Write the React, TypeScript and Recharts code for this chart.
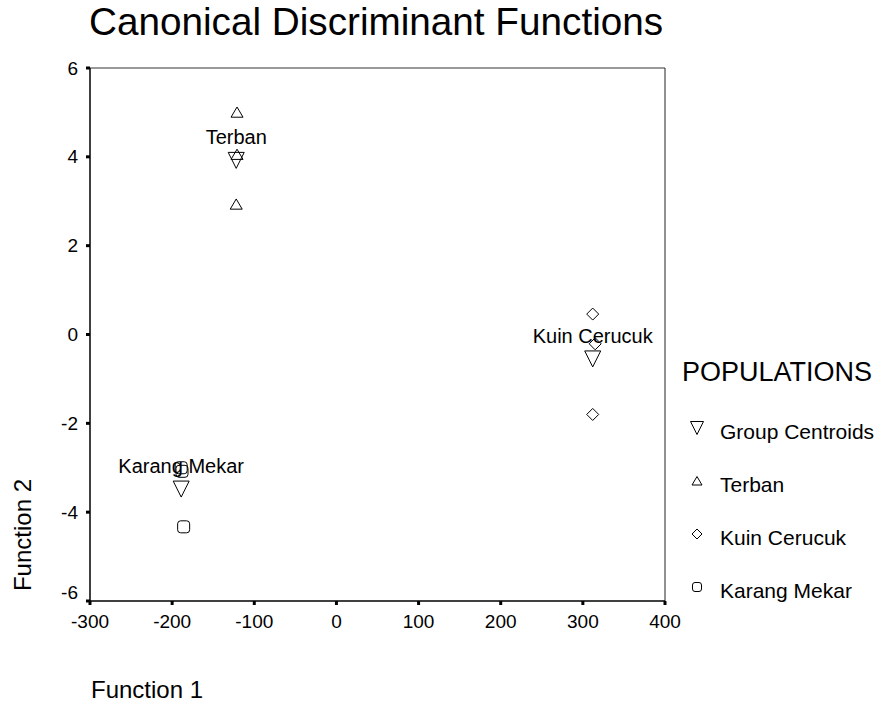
import React from 'react';
import { ScatterChart, Scatter, XAxis, YAxis, ReferenceLine, Legend } from 'recharts';

const X_TICKS = [-300, -200, -100, 0, 100, 200, 300, 400];
const Y_TICKS = [-6, -4, -2, 0, 2, 4, 6];

const TERBAN = [
  { x: -121, y: 5.0 },
  { x: -121, y: 4.05 },
  { x: -122, y: 2.93 },
];
const KUIN_CERUCUK = [
  { x: 312, y: 0.46 },
  { x: 315, y: -0.21 },
  { x: 312, y: -1.8 },
];
const KARANG_MEKAR = [
  { x: -189, y: -3.0 },
  { x: -188, y: -3.08 },
  { x: -186, y: -4.33 },
];
const CENTROIDS = [
  { x: -122, y: 3.92, name: 'Terban' },
  { x: 312, y: -0.55, name: 'Kuin Cerucuk' },
  { x: -189, y: -3.48, name: 'Karang Mekar' },
];

const LEGEND_ITEMS = ['Group Centroids', 'Terban', 'Kuin Cerucuk', 'Karang Mekar'];

const FONT = '"Liberation Sans", Arial, sans-serif';

const triDown = (cx: number, cy: number, s: number) =>
  `M${cx - s / 2},${cy - s / 2} L${cx + s / 2},${cy - s / 2} L${cx},${cy + s / 2} Z`;
const triUp = (cx: number, cy: number, s: number) =>
  `M${cx - s / 2},${cy + s * 0.4} L${cx + s / 2},${cy + s * 0.4} L${cx},${cy - s * 0.45} Z`;
const diamond = (cx: number, cy: number, s: number) =>
  `M${cx},${cy - s / 2} L${cx + s / 2},${cy} L${cx},${cy + s / 2} L${cx - s / 2},${cy} Z`;

const CentroidShape = (props: any) => {
  const { cx, cy, payload } = props;
  return (
    <g>
      <path d={triDown(cx, cy, 16)} fill="none" stroke="#000" strokeWidth={1} />
      <text x={cx} y={cy - 16} textAnchor="middle" fontSize={20} fontFamily={FONT} fill="#000">
        {payload.name}
      </text>
    </g>
  );
};
const TriangleShape = (props: any) => (
  <path d={triUp(props.cx, props.cy, 12)} fill="none" stroke="#000" strokeWidth={1} />
);
const DiamondShape = (props: any) => (
  <path d={diamond(props.cx, props.cy, 12)} fill="none" stroke="#000" strokeWidth={1} />
);
const SquareShape = (props: any) => (
  <rect x={props.cx - 6} y={props.cy - 6} width={12} height={12} rx={3} fill="none" stroke="#000" strokeWidth={1} />
);

// y tick: the bottom label sits a bit higher so it clears the x labels
const YTick = (props: any) => {
  const { x, y, payload } = props;
  const shift = payload.value === -6 ? -9 : 0;
  return (
    <text x={x} y={y + shift} dy="0.35em" textAnchor="end" fontSize={19} fontFamily={FONT} fill="#000">
      {payload.value}
    </text>
  );
};

const legendIcon = (i: number) => {
  if (i === 0) return <path d={triDown(8, 8, 13)} fill="none" stroke="#000" />;
  if (i === 1) return <path d={triUp(8, 8, 10)} fill="none" stroke="#000" />;
  if (i === 2) return <path d={diamond(8, 8, 10)} fill="none" stroke="#000" />;
  return <rect x={3.5} y={3.5} width={9} height={9} rx={2.5} fill="none" stroke="#000" />;
};

const LegendContent = () => (
  <div style={{ fontFamily: FONT, color: '#000' }}>
    <div style={{ fontSize: 27, lineHeight: '34px', marginBottom: 16 }}>POPULATIONS</div>
    {LEGEND_ITEMS.map((name, i) => (
      <div key={name} style={{ display: 'flex', alignItems: 'center', height: 53, marginLeft: 7 }}>
        <svg width={16} height={16} style={{ marginRight: 15, marginTop: -8 }}>
          {legendIcon(i)}
        </svg>
        <span style={{ fontSize: 21 }}>{name}</span>
      </div>
    ))}
  </div>
);

export default function App() {
  return (
    <div style={{ position: 'absolute', left: 0, top: 0, width: 879, height: 704, background: '#fff', fontFamily: FONT }}>
      <div style={{ position: 'absolute', left: 89, top: 0, fontSize: 38.7, lineHeight: '44px', whiteSpace: 'nowrap' }}>
        Canonical Discriminant Functions
      </div>
      <div
        style={{
          position: 'absolute',
          left: 23,
          top: 535,
          fontSize: 24,
          whiteSpace: 'nowrap',
          transform: 'translate(-50%, -50%) rotate(-90deg)',
        }}
      >
        Function 2
      </div>
      <div style={{ position: 'absolute', left: 91, top: 676, fontSize: 24, lineHeight: '28px', whiteSpace: 'nowrap' }}>
        Function 1
      </div>
      <ScatterChart width={879} height={704} margin={{ top: 68, right: 214, bottom: 73, left: 40 }}>
        <XAxis
          type="number"
          dataKey="x"
          domain={[-300, 400]}
          ticks={X_TICKS}
          interval={0}
          axisLine={{ stroke: '#000', strokeWidth: 1.5 }}
          tickLine={{ stroke: '#000', strokeWidth: 3 }}
          tickSize={4}
          tickMargin={10}
          tick={{ fill: '#000', fontSize: 19, fontFamily: FONT }}
        />
        <YAxis
          type="number"
          dataKey="y"
          domain={[-6, 6]}
          ticks={Y_TICKS}
          interval={0}
          width={50}
          axisLine={{ stroke: '#000', strokeWidth: 1.5 }}
          tickLine={{ stroke: '#000', strokeWidth: 3 }}
          tickSize={4}
          tickMargin={8}
          tick={YTick}
        />
        <ReferenceLine y={6} stroke="#777" strokeWidth={1.5} />
        <ReferenceLine x={400} stroke="#222" strokeWidth={1} />
        <Legend
          layout="horizontal"
          align="center"
          verticalAlign="middle"
          content={LegendContent}
          wrapperStyle={{ position: 'absolute', left: 682, top: 355, width: 197 }}
        />
        <Scatter name="Terban" data={TERBAN} shape={TriangleShape} isAnimationActive={false} />
        <Scatter name="Kuin Cerucuk" data={KUIN_CERUCUK} shape={DiamondShape} isAnimationActive={false} />
        <Scatter name="Karang Mekar" data={KARANG_MEKAR} shape={SquareShape} isAnimationActive={false} />
        <Scatter name="Group Centroids" data={CENTROIDS} shape={CentroidShape} isAnimationActive={false} />
      </ScatterChart>
    </div>
  );
}
